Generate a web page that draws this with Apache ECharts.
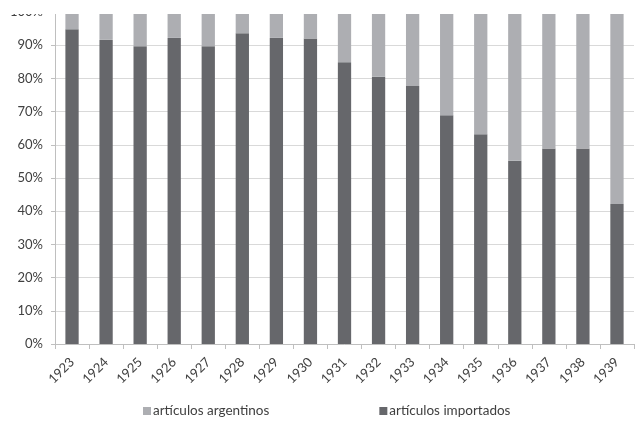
<!DOCTYPE html>
<html>
<head>
<meta charset="utf-8">
<script src="https://cdn.jsdelivr.net/npm/echarts@6/dist/echarts.min.js"></script>
<style>html,body{margin:0;padding:0;background:#fff;}#c{width:635px;height:429px;}</style>
</head>
<body>
<div id="c"></div>
<script>
var years = ['1923','1924','1925','1926','1927','1928','1929','1930','1931','1932','1933','1934','1935','1936','1937','1938','1939'];
var importados = [94.8, 91.6, 89.7, 92.2, 89.7, 93.6, 92.2, 92.0, 84.9, 80.5, 77.7, 68.9, 63.2, 55.2, 58.9, 58.9, 42.2];
var argentinos = [5.2, 8.4, 10.3, 7.8, 10.3, 6.4, 7.8, 8.0, 15.1, 19.5, 22.3, 31.1, 36.8, 44.8, 41.1, 41.1, 57.8];
var yTicks = [0, 10, 20, 30, 40, 50, 60, 70, 80, 90, 100];

var chart = echarts.init(document.getElementById('c'), null, {renderer: 'canvas'});
chart.setOption({
  animation: false,
  backgroundColor: '#ffffff',
  textStyle: {fontFamily: 'Lato'},
  grid: {left: 55, right: 1, top: 12, bottom: 85, containLabel: false},
  legend: {
    data: ['artículos argentinos', 'artículos importados'],
    bottom: 6,
    left: 138,
    itemWidth: 8,
    itemHeight: 8,
    itemGap: 110,
    icon: 'rect',
    textStyle: {fontFamily: 'Lato', fontSize: 13.5, color: '#404040', padding: [0, 0, 0, -3]}
  },
  xAxis: {
    type: 'category',
    data: years,
    boundaryGap: true,
    axisLine: {lineStyle: {color: '#bfbfbf', width: 1}},
    axisTick: {show: true, length: 5, lineStyle: {color: '#bfbfbf'}},
    axisLabel: {rotate: 45, fontSize: 13, color: '#404040', margin: 16, fontFamily: 'Lato'},
    splitLine: {show: false}
  },
  yAxis: {
    type: 'value',
    min: 0,
    max: 100,
    interval: 10,
    axisLine: {show: true, lineStyle: {color: '#bfbfbf', width: 1}},
    axisTick: {show: true, length: 4, lineStyle: {color: '#bfbfbf'}},
    axisLabel: {
      fontSize: 13, color: '#404040', margin: 12, fontFamily: 'Lato',
      formatter: function (v) { return yTicks.indexOf(v) >= 0 ? v + '%' : ''; }
    },
    splitLine: {show: true, lineStyle: {color: '#d9d9d9', width: 1}}
  },
  series: [
    {
      name: 'artículos importados',
      type: 'bar',
      stack: 'total',
      data: importados,
      barWidth: '39%',
      itemStyle: {color: '#66676b'}
    },
    {
      name: 'artículos argentinos',
      type: 'bar',
      stack: 'total',
      data: argentinos,
      barWidth: '39%',
      itemStyle: {color: '#adaeb2'}
    }
  ],
  graphic: [{
    type: 'rect',
    left: 0, top: 0, z: 100,
    shape: {x: 0, y: 0, width: 635, height: 14},
    style: {fill: '#ffffff'}
  }]
});
</script>
</body>
</html>
